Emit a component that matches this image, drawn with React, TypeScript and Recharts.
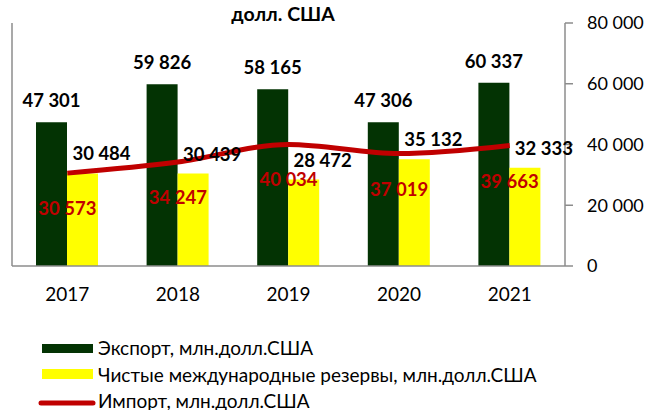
import React from 'react';
import { ComposedChart, Bar, Line, XAxis, YAxis, LabelList } from 'recharts';

const years = ['2017', '2018', '2019', '2020', '2021'];
const exportValues = [47301, 59826, 58165, 47306, 60337];
const reserveValues = [30484, 30439, 28472, 35132, 32333];
const importValues = [30573, 34247, 40034, 37019, 39663];
const yTicks = [0, 20000, 40000, 60000, 80000];
const seriesNames = [
  'Экспорт, млн.долл.США',
  'Чистые международные резервы, млн.долл.США',
  'Импорт, млн.долл.США',
];
const titleText = 'долл. США';

const COLORS = { exp: '#033303', res: '#FFFF00', imp: '#C00000', axis: '#8C8C8C' };
const FONT = 'Lato, "Noto Sans", sans-serif';

const data = years.map((y, i) => ({
  year: y,
  exp: exportValues[i],
  res: reserveValues[i],
  imp: importValues[i],
}));

const fmt = (v: any) => String(v).replace(/\B(?=(\d{3})+(?!\d))/g, ' ');

const box = (p: any) => {
  const vb = p.viewBox || {};
  return {
    x: Number(p.x ?? vb.x),
    y: Number(p.y ?? vb.y),
    w: Number(p.width ?? vb.width ?? 0),
    h: Number(p.height ?? vb.height ?? 0),
  };
};

const LABEL_SIZE = 18.5;

const ExportLabel = (p: any) => {
  const b = box(p);
  return (
    <text x={b.x + b.w / 2} y={b.y - 22} textAnchor="middle" dominantBaseline="central"
      fontFamily={FONT} fontWeight="bold" fontSize={LABEL_SIZE} fill="#000">
      {fmt(p.value)}
    </text>
  );
};

const ReserveLabel = (p: any) => {
  const b = box(p);
  return (
    <text x={b.x + b.w / 2 + 19} y={b.y - 20} textAnchor="middle" dominantBaseline="central"
      fontFamily={FONT} fontWeight="bold" fontSize={LABEL_SIZE} fill="#000">
      {fmt(p.value)}
    </text>
  );
};

const ImportLabel = (p: any) => {
  const b = box(p);
  return (
    <text x={b.x} y={b.y + 35} textAnchor="middle" dominantBaseline="central"
      fontFamily={FONT} fontWeight="bold" fontSize={LABEL_SIZE} fill={COLORS.imp}>
      {fmt(p.value)}
    </text>
  );
};

export default function App() {
  return (
    <div style={{ position: 'absolute', left: 0, top: 0, width: 646, height: 410, background: '#fff', fontFamily: FONT, overflow: 'hidden' }}>
      <ComposedChart width={646} height={410} data={data}
        margin={{ top: 23, right: 0, bottom: 114, left: 0 }}
        barGap={0} barSize={31}>
        <XAxis dataKey="year" xAxisId="x" height={30} tickLine={false}
          axisLine={{ stroke: COLORS.axis, strokeWidth: 1.5 }}
          tickSize={6} tickMargin={16}
          tick={{ fontFamily: FONT, fontSize: 19, fill: '#000' }} />
        <YAxis yAxisId="left" orientation="left" width={12} domain={[0, 80000]}
          tick={false} tickLine={false} axisLine={{ stroke: COLORS.axis, strokeWidth: 1.5 }} />
        <YAxis yAxisId="right" orientation="right" width={81} domain={[0, 80000]}
          ticks={yTicks} interval={0} tickFormatter={fmt}
          tickSize={8} tickMargin={14}
          tickLine={{ stroke: COLORS.axis, strokeWidth: 1.5 }}
          axisLine={{ stroke: COLORS.axis, strokeWidth: 1.5 }}
          tick={{ fontFamily: FONT, fontSize: 18, fill: '#000', textAnchor: 'start' }} />
        <Bar dataKey="exp" name={seriesNames[0]} xAxisId="x" yAxisId="right" fill={COLORS.exp} isAnimationActive={false}>
          <LabelList dataKey="exp" content={ExportLabel} />
        </Bar>
        <Bar dataKey="res" name={seriesNames[1]} xAxisId="x" yAxisId="right" fill={COLORS.res} isAnimationActive={false}>
          <LabelList dataKey="res" content={ReserveLabel} />
        </Bar>
        <Line dataKey="imp" name={seriesNames[2]} xAxisId="x" yAxisId="right" type="monotone"
          stroke={COLORS.imp} strokeWidth={5} dot={false} activeDot={false} isAnimationActive={false}>
          <LabelList dataKey="imp" content={ImportLabel} />
        </Line>
      </ComposedChart>
      <div style={{ position: 'absolute', left: 183, top: 3, width: 200, textAlign: 'center',
        fontWeight: 'bold', fontSize: 19.5, lineHeight: '22px', color: '#000' }}>{titleText}</div>
      <svg width={646} height={410} style={{ position: 'absolute', left: 0, top: 0, pointerEvents: 'none' }}>
        <rect x={42} y={344} width={51} height={9} fill={COLORS.exp} />
        <text x={98} y={347} dominantBaseline="central" fontFamily={FONT} fontSize={19} fill="#000">{seriesNames[0]}</text>
        <rect x={42} y={369} width={51} height={10} fill={COLORS.res} />
        <text x={98} y={374} dominantBaseline="central" fontFamily={FONT} fontSize={19} fill="#000">{seriesNames[1]}</text>
        <line x1={41} y1={403} x2={93} y2={403} stroke={COLORS.imp} strokeWidth={5} strokeLinecap="round" />
        <text x={98} y={400} dominantBaseline="central" fontFamily={FONT} fontSize={19} fill="#000">{seriesNames[2]}</text>
      </svg>
    </div>
  );
}
